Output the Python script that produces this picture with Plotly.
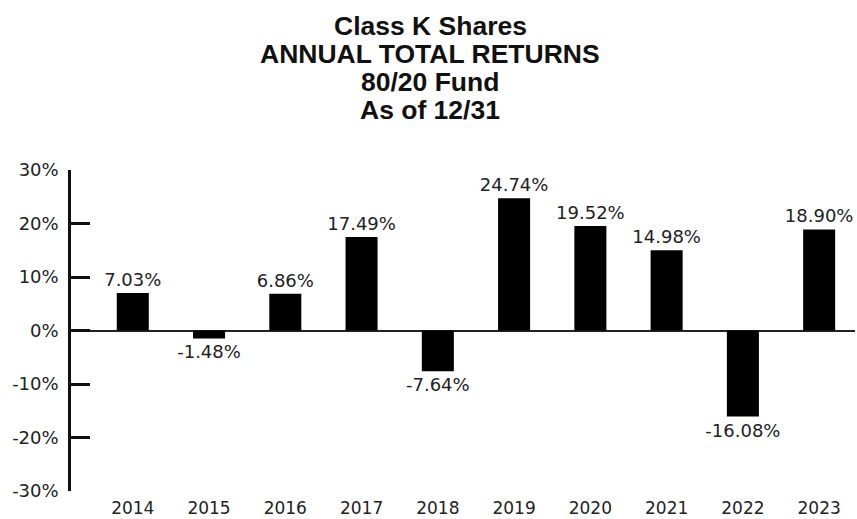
import plotly.graph_objects as go

years = ["2014", "2015", "2016", "2017", "2018", "2019", "2020", "2021", "2022", "2023"]
returns = [7.03, -1.48, 6.86, 17.49, -7.64, 24.74, 19.52, 14.98, -16.08, 18.90]
labels = [f"{v:.2f}%" for v in returns]
title_lines = ["Class K Shares", "ANNUAL TOTAL RETURNS", "80/20 Fund", "As of 12/31"]
y_ticks = [-30, -20, -10, 0, 10, 20, 30]
y_tick_text = [f"{t}%" for t in y_ticks]

W, H = 857, 519
L, R, T, B = 71, 2, 170, 28

fig = go.Figure(go.Bar(
    x=years, y=returns, text=labels, textposition="outside",
    marker=dict(color="#000000", line=dict(width=0)),
    width=0.42, cliponaxis=False, constraintext="none",
    textfont=dict(family="DejaVu Sans", size=18, color="#222222"),
))

plot_h = H - T - B
plot_w = W - L - R
annos = []
title_pix = [26, 54, 81, 109]
for txt, py in zip(title_lines, title_pix):
    annos.append(dict(
        text=f"<b>{txt}</b>", x=(430 - L) / plot_w, xref="paper", xanchor="center",
        y=(H - B - py) / plot_h, yref="paper", yanchor="middle", height=27,
        showarrow=False, font=dict(family="Liberation Sans", size=26.5, color="#111111"),
    ))

fig.update_layout(
    width=W, height=H, margin=dict(l=L, r=R, t=T, b=B, autoexpand=False),
    plot_bgcolor="white", paper_bgcolor="white", showlegend=False,
    annotations=annos,
    xaxis=dict(type="category", range=[-0.81, 9.47], showline=False, showgrid=False,
               ticks="", tickfont=dict(family="DejaVu Sans", size=17, color="#222222"),
               ticklabelstandoff=5, zeroline=False, automargin=False),
    yaxis=dict(range=[-30, 30], tickvals=y_ticks, ticktext=y_tick_text,
               showline=True, linecolor="#111111", linewidth=2.5,
               ticks="inside", ticklen=19, tickwidth=2.5, tickcolor="#111111",
               showgrid=False, zeroline=True, zerolinecolor="#222222", zerolinewidth=2,
               tickfont=dict(family="DejaVu Sans", size=18, color="#222222"),
               ticklabelstandoff=6, automargin=False),
)

fig.write_html("out.html", config={"displayModeBar": False},
               post_script="document.body.style.margin='0';document.body.style.overflow='hidden';")
